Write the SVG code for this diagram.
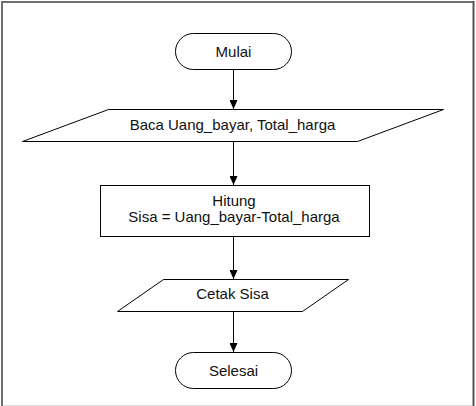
<svg xmlns="http://www.w3.org/2000/svg" width="476" height="406" viewBox="0 0 476 406">
<style>
.shape{fill:#fff;stroke:#000;stroke-width:1}
.lbl{font-family:"Liberation Sans",Arial,sans-serif;font-size:15px;fill:#111;text-anchor:middle}
.conn{stroke:#000;stroke-width:1;fill:none;marker-end:url(#ah)}
</style>
<defs>
<marker id="ah" viewBox="0 0 9 8" refX="9" refY="4" markerWidth="9" markerHeight="8" markerUnits="userSpaceOnUse" orient="auto">
<path d="M0,0 L9,4 L0,8 Z" fill="#000"/>
</marker>
</defs>
<rect width="476" height="406" fill="#fff"/>
<g id="frame">
<line x1="1" y1="2" x2="474" y2="2" stroke="#6e6e6e" stroke-width="2"/>
<line x1="2" y1="1" x2="2" y2="406" stroke="#6e6e6e" stroke-width="2"/>
<line x1="473.5" y1="1" x2="473.5" y2="406" stroke="#555" stroke-width="2"/>
<line x1="3" y1="405.5" x2="472" y2="405.5" stroke="#dcdcdc" stroke-width="1"/>
</g>
<g id="connectors">
<path class="conn" d="M233.5,69 V109"/>
<path class="conn" d="M233.5,141 V185"/>
<path class="conn" d="M233.5,236 V279"/>
<path class="conn" d="M233.5,311 V352"/>
</g>
<g id="mulai">
<rect class="shape" x="175.5" y="33.5" width="116" height="36" rx="18" ry="18"/>
<text class="lbl" x="233.5" y="57">Mulai</text>
</g>
<g id="baca">
<polygon class="shape" points="108.5,109.5 443.5,109.5 357.5,141.5 22.5,141.5"/>
<text class="lbl" x="232.5" y="130">Baca Uang_bayar, Total_harga</text>
</g>
<g id="hitung">
<rect class="shape" x="100.5" y="185.5" width="269" height="51"/>
<text class="lbl" x="234" y="206">Hitung</text>
<text class="lbl" x="234" y="222">Sisa = Uang_bayar-Total_harga</text>
</g>
<g id="cetak">
<polygon class="shape" points="163.5,279.5 348.5,279.5 302.5,311.5 117.5,311.5"/>
<text class="lbl" x="232.5" y="299">Cetak Sisa</text>
</g>
<g id="selesai">
<rect class="shape" x="175.5" y="352.5" width="116" height="36" rx="18" ry="18"/>
<text class="lbl" x="233.5" y="376">Selesai</text>
</g>
</svg>
